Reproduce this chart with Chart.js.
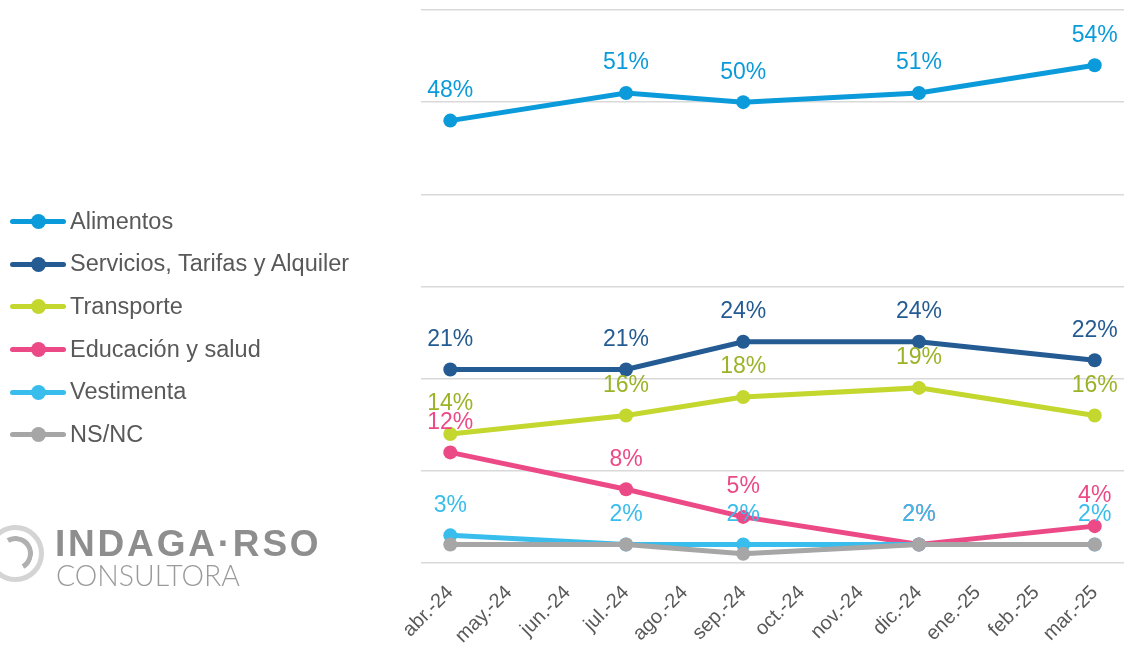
<!DOCTYPE html>
<html>
<head>
<meta charset="utf-8">
<script src="https://cdn.jsdelivr.net/npm/chart.js@4/dist/chart.umd.min.js"></script>
<style>
  html, body { margin: 0; padding: 0; background: #fff; }
  #wrap { position: relative; width: 1124px; height: 653px; overflow: hidden; }
  #myChart { position: absolute; left: 0; top: 0; }
  #legend { position: absolute; left: 10px; top: 200px; font-family: 'Liberation Sans', Arial, sans-serif; font-size: 23.5px; color: #595959; }
  .item { display: flex; align-items: center; height: 42.6px; white-space: nowrap; }
  .sym { position: relative; width: 56px; height: 20px; margin-right: 4px; flex: none; }
  .sym .ln { position: absolute; left: 0; right: 0; top: 8px; height: 5px; border-radius: 3px; }
  .sym .dot { position: absolute; left: 21px; top: 3px; width: 15px; height: 15px; border-radius: 50%; }
  #logo { position: absolute; left: 0; top: 520px; }
  .ring { position: absolute; left: -13px; top: 5px; width: 57px; height: 57px; border: 5px solid #d4d4d4; border-radius: 50%; box-sizing: border-box; }
  .ring2 { position: absolute; left: -2px; top: 16px; width: 35px; height: 35px; border: 5px solid transparent; border-top-color: #b0b0b0; border-right-color: #b0b0b0; border-radius: 50%; box-sizing: border-box; transform: rotate(15deg); }
  .brand { position: absolute; left: 55px; top: 5px; line-height: 1; font-family: 'Liberation Sans', Arial, sans-serif; font-weight: bold; font-size: 37px; color: #8e8e8e; white-space: nowrap; letter-spacing: 2.8px; }
  .sub { position: absolute; left: 56px; top: 40px; line-height: 1; font-family: Lato, 'Open Sans', sans-serif; font-weight: 300; font-size: 29px; color: #9a9a9a; white-space: nowrap; transform: scaleX(0.98); transform-origin: left top; }
</style>
</head>
<body>
<div id="wrap">
  <canvas id="myChart" width="1124" height="653"></canvas>
  <div id="legend"></div>
  <div id="logo">
    <div class="ring"></div>
    <div class="ring2"></div>
    <div class="brand">INDAGA·RSO</div>
    <div class="sub">CONSULTORA</div>
  </div>
</div>
<script>
const months = ['abr.-24', 'may.-24', 'jun.-24', 'jul.-24', 'ago.-24', 'sep.-24', 'oct.-24', 'nov.-24', 'dic.-24', 'ene.-25', 'feb.-25', 'mar.-25'];

const alimentos = [48, null, null, 51, null, 50, null, null, 51, null, null, 54];
const servicios = [21, null, null, 21, null, 24, null, null, 24, null, null, 22];
const transporte = [14, null, null, 16, null, 18, null, null, 19, null, null, 16];
const educacion = [12, null, null, 8, null, 5, null, null, 2, null, null, 4];
const vestimenta = [3, null, null, 2, null, 2, null, null, 2, null, null, 2];
const nsnc = [2, null, null, 2, null, 1, null, null, 2, null, null, 2];

const seriesNames = ['Alimentos', 'Servicios, Tarifas y Alquiler', 'Transporte', 'Educación y salud', 'Vestimenta', 'NS/NC'];
const seriesValues = [alimentos, servicios, transporte, educacion, vestimenta, nsnc];
const lineColors = ['#0b9bda', '#245b93', '#c3d72f', '#ec4a87', '#38bdec', '#a6a6a6'];
const labelColors = ['#0b9bda', '#245b93', '#9bb329', '#ec4a87', '#38bdec', null];

const yTicks = { min: 0, max: 60, step: 10 };

// legend drawn as html
const legendEl = document.getElementById('legend');
seriesNames.forEach((name, i) => {
  const row = document.createElement('div');
  row.className = 'item';
  row.innerHTML = `<div class="sym"><div class="ln" style="background:${lineColors[i]}"></div><div class="dot" style="background:${lineColors[i]}"></div></div><span>${name}</span>`;
  legendEl.appendChild(row);
});

// value labels above the points (NS/NC has none)
const valueLabels = {
  id: 'valueLabels',
  afterDatasetsDraw(chart) {
    const ctx = chart.ctx;
    ctx.save();
    ctx.font = '23px "Liberation Sans", Arial, sans-serif';
    ctx.textAlign = 'center';
    ctx.textBaseline = 'middle';
    chart.data.datasets.forEach((ds, di) => {
      const color = labelColors[di];
      if (!color) return;
      const meta = chart.getDatasetMeta(di);
      ctx.fillStyle = color;
      meta.data.forEach((pt, idx) => {
        const v = ds.data[idx];
        if (v === null || v === undefined) return;
        ctx.fillText(v + '%', pt.x, pt.y - 30);
      });
    });
    ctx.restore();
  },
};

const config = {
  type: 'line',
  data: {
    labels: months,
    datasets: seriesNames.map((name, i) => ({
      label: name,
      data: seriesValues[i],
      borderColor: lineColors[i],
      backgroundColor: lineColors[i],
      borderWidth: 5,
      pointRadius: 7,
      pointHoverRadius: 7,
      pointBorderWidth: 0,
      pointBackgroundColor: lineColors[i],
      spanGaps: true,
      tension: 0,
      clip: false,
      order: seriesNames.length - i,
    })),
  },
  plugins: [valueLabels],
  options: {
    responsive: false,
    animation: false,
    layout: {
      autoPadding: false,
      padding: { left: 421, top: 10, right: -4, bottom: 0 },
    },
    plugins: {
      legend: { display: false },
      tooltip: { enabled: false },
    },
    scales: {
      x: {
        offset: true,
        grid: { display: false },
        border: { display: false },
        ticks: {
          maxRotation: 45,
          minRotation: 45,
          autoSkip: false,
          color: '#595959',
          padding: 10,
          font: { size: 20, family: '"Liberation Sans", Arial, sans-serif' },
        },
        afterFit: (scale) => {
          scale.height = 90;
        },
      },
      y: {
        min: yTicks.min,
        max: yTicks.max,
        ticks: { stepSize: yTicks.step, display: false },
        grid: { color: '#d9d9d9', lineWidth: 1.5, drawTicks: false },
        border: { display: false },
        afterFit: (scale) => {
          scale.width = 0;
        },
      },
    },
  },
};

const ctx = document.getElementById('myChart').getContext('2d');
new Chart(ctx, config);
</script>
</body>
</html>
